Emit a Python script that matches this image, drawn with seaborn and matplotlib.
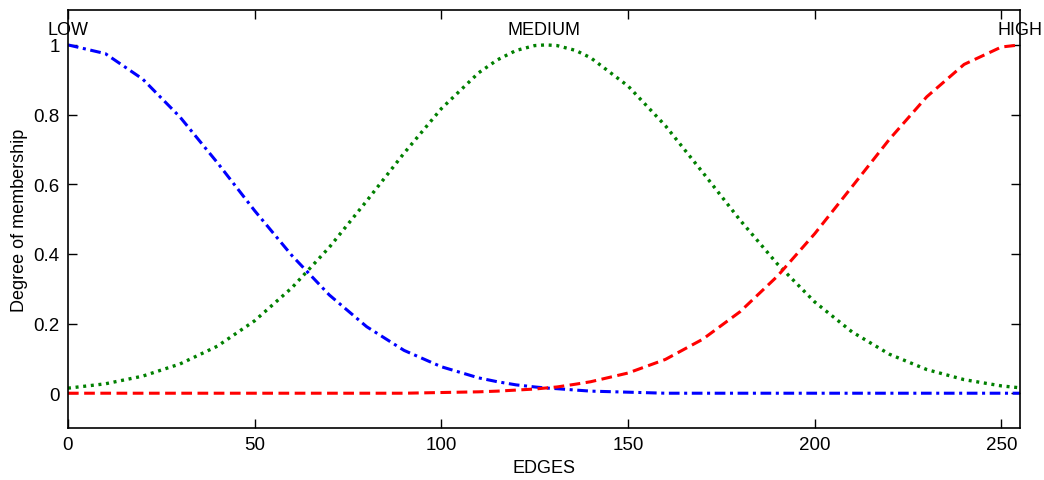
import matplotlib
matplotlib.use("Agg")
import matplotlib.pyplot as plt
import seaborn as sns
import pandas as pd

x_edges = [0, 10, 20, 30, 40, 50, 60, 70, 80, 90, 100, 110, 115, 120, 125, 128, 131,
           136, 140, 150, 160, 170, 180, 190, 200, 210, 220, 230, 240, 250, 255]
low = [1.0, 0.975, 0.902, 0.793, 0.662, 0.524, 0.395, 0.282, 0.191, 0.123, 0.076,
       0.044, 0.033, 0.024, 0.018, 0.015, 0.013, 0.009, 0.006, 0.003, 0.0, 0.0,
       0.0, 0.0, 0.0, 0.0, 0.0, 0.0, 0.0, 0.0, 0.0]
medium = [0.0145, 0.027, 0.049, 0.084, 0.135, 0.208, 0.303, 0.419, 0.552, 0.689,
          0.817, 0.920, 0.957, 0.984, 0.998, 1.0, 0.998, 0.984, 0.963, 0.882, 0.768,
          0.634, 0.497, 0.371, 0.262, 0.176, 0.112, 0.068, 0.039, 0.021, 0.0155]
high = [0.0, 0.0, 0.0, 0.0, 0.0, 0.0, 0.0, 0.0, 0.0, 0.0, 0.002, 0.004, 0.006,
        0.009, 0.012, 0.015, 0.018, 0.026, 0.033, 0.058, 0.097, 0.155, 0.234,
        0.336, 0.458, 0.593, 0.729, 0.851, 0.944, 0.994, 1.0]
mf_names = ["LOW", "MEDIUM", "HIGH"]
mf_centers = [0, 127.5, 255]

sns.set_style("ticks")
plt.rcParams['font.family'] = ['Liberation Sans', 'DejaVu Sans']
plt.rcParams['text.color'] = 'black'
plt.rcParams['axes.labelcolor'] = 'black'

df = pd.DataFrame({"x": x_edges, "LOW": low, "MEDIUM": medium, "HIGH": high})

fig = plt.figure(figsize=(10.44, 4.81), dpi=100)
ax = fig.add_axes([0.0651, 0.108, 0.912, 0.869])

sns.lineplot(data=df, x="x", y="LOW", ax=ax, color=(0, 0, 1), lw=2.2,
             linestyle=(0, (3.5, 1.5, 1, 1.5)))
sns.lineplot(data=df, x="x", y="MEDIUM", ax=ax, color=(0, 0.5, 0), lw=2.4,
             linestyle=(0, (0.9, 1.4)))
sns.lineplot(data=df, x="x", y="HIGH", ax=ax, color=(1, 0, 0), lw=2.2,
             linestyle=(0, (3.5, 1.8)))

ax.set_xlim(0, 255)
ax.set_ylim(-0.1, 1.1)
ax.set_xticks([0, 50, 100, 150, 200, 250])
ax.set_yticks([0, 0.2, 0.4, 0.6, 0.8, 1])
ax.set_yticklabels(["0", "0.2", "0.4", "0.6", "0.8", "1"])
ax.tick_params(direction="in", length=6.5, width=1, top=True, right=True,
               labelsize=13.5, pad=6, colors="black", labelcolor="black")
for s in ax.spines.values():
    s.set_visible(True)
    s.set_linewidth(1.2)
    s.set_color("black")

ax.set_xlabel("EDGES", fontsize=13, labelpad=4, color="black")
ax.set_ylabel("Degree of membership", fontsize=13, labelpad=4, color="black")

for name, c in zip(mf_names, mf_centers):
    ax.text(c, 1.03, name, ha="center", va="baseline", fontsize=13,
            color="black", clip_on=False)

fig.savefig("out.png", dpi=100)
